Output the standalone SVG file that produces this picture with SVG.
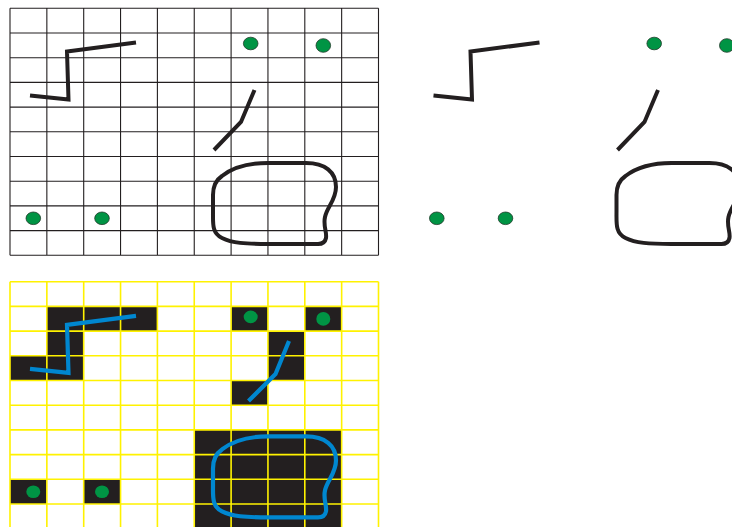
<svg xmlns="http://www.w3.org/2000/svg" xmlns:xlink="http://www.w3.org/1999/xlink" width="732" height="527" viewBox="0 0 732 527">
<style>
.grid{stroke:#231F20;stroke-width:1.1;fill:none}
.ygrid{stroke:#FFF200;stroke-width:1.6;fill:none}
.cell{fill:#231F20}
.ink{fill:none;stroke:#231F20;stroke-width:4;stroke-linejoin:miter}
.blue{fill:none;stroke:#0087D0;stroke-width:4.2;stroke-linejoin:miter}
.dot{fill:#009444;stroke:#1f3a2a;stroke-width:0.8}
.dotb{fill:#009444}
</style>
<defs>
<path id="zig" d="M30,95.5 L68.5,99.5 L67,51.5 L136,42.5"/>
<path id="slash" d="M254.5,90 L241,122 L214,150"/>
<path id="blob" d="M222,176 C235,166 252,163 268,163 L306,163 C325,163 336,172 336,187 C336,200 327,207 325,217 C323,226 327,232 326,238 C325,243 322,244 318,244 L268,244 C245,244 232,243 222,238 C212,233 213,224 213,212 L213,195 C213,186 216,180 222,176 Z"/>
<path id="gridlines" d="M10,8.3V255.3M46.85,8.3V255.3M83.7,8.3V255.3M120.55,8.3V255.3M157.4,8.3V255.3M194.25,8.3V255.3M231.1,8.3V255.3M267.95,8.3V255.3M304.8,8.3V255.3M341.65,8.3V255.3M378.5,8.3V255.3M10,8.3H378.5M10,33H378.5M10,57.7H378.5M10,82.4H378.5M10,107.1H378.5M10,131.8H378.5M10,156.5H378.5M10,181.2H378.5M10,205.9H378.5M10,230.6H378.5M10,255.3H378.5"/>
</defs>

<g id="panel-grid-vector">
  <use xlink:href="#gridlines" class="grid"/>
  <use xlink:href="#zig" class="ink"/>
  <use xlink:href="#slash" class="ink"/>
  <use xlink:href="#blob" class="ink"/>
  <ellipse class="dot" cx="250.7" cy="43.5" rx="7.3" ry="6.3"/>
  <ellipse class="dot" cx="323.3" cy="45.5" rx="7.3" ry="6.8"/>
  <ellipse class="dot" cx="33.3" cy="218.3" rx="7.3" ry="6.3"/>
  <ellipse class="dot" cx="102" cy="218.3" rx="7.3" ry="6.3"/>
</g>

<g id="panel-vector" transform="translate(403.5,0)">
  <use xlink:href="#zig" class="ink"/>
  <use xlink:href="#slash" class="ink"/>
  <use xlink:href="#blob" class="ink"/>
  <ellipse class="dot" cx="250.7" cy="43.5" rx="7.3" ry="6.3"/>
  <ellipse class="dot" cx="323.3" cy="45.5" rx="7.3" ry="6.8"/>
  <ellipse class="dot" cx="33.3" cy="218.3" rx="7.3" ry="6.3"/>
  <ellipse class="dot" cx="102" cy="218.3" rx="7.3" ry="6.3"/>
</g>

<g id="panel-raster" transform="translate(0,273.4)">
  <g id="cells">
    <rect class="cell" x="46.85" y="33" width="110.55" height="24.7"/>
    <rect class="cell" x="231.1" y="33" width="36.85" height="24.7"/>
    <rect class="cell" x="304.8" y="33" width="36.85" height="24.7"/>
    <rect class="cell" x="46.85" y="57.7" width="36.85" height="24.7"/>
    <rect class="cell" x="267.95" y="57.7" width="36.85" height="49.4"/>
    <rect class="cell" x="10" y="82.4" width="73.7" height="24.7"/>
    <rect class="cell" x="231.1" y="107.1" width="36.85" height="24.7"/>
    <rect class="cell" x="194.25" y="156.5" width="147.4" height="98.8"/>
    <rect class="cell" x="10" y="205.9" width="36.85" height="24.7"/>
    <rect class="cell" x="83.7" y="205.9" width="36.85" height="24.7"/>
  </g>
  <use xlink:href="#gridlines" class="ygrid"/>
  <use xlink:href="#zig" class="blue"/>
  <path class="blue" d="M289,67.6 L275.5,100.6 L248.5,127.6"/>
  <use xlink:href="#blob" class="blue"/>
  <ellipse class="dotb" cx="250.7" cy="43.5" rx="7" ry="6.3"/>
  <ellipse class="dotb" cx="323.3" cy="45.5" rx="7" ry="6.8"/>
  <ellipse class="dotb" cx="33.3" cy="218.3" rx="7" ry="6.3"/>
  <ellipse class="dotb" cx="102" cy="218.3" rx="7" ry="6.3"/>
</g>
</svg>
